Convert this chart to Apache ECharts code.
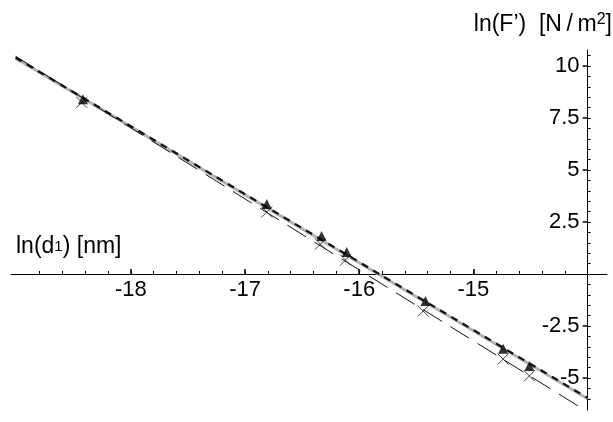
<!DOCTYPE html>
<html>
<head>
<meta charset="utf-8">
<script src="https://cdn.jsdelivr.net/npm/echarts@6/dist/echarts.min.js"></script>
<style>html,body{margin:0;padding:0;background:#fff}#chart{width:613px;height:422px}</style>
</head>
<body>
<div id="chart"></div>
<script>
'use strict';

// measured points (triangles and crosses)
var triX = [-18.42, -16.81, -16.33, -16.11, -15.42, -14.74, -14.51];
var triY = [8.40, 3.37, 1.83, 1.06, -1.30, -3.60, -4.42];
var crossX = [-18.43, -16.81, -16.34, -16.12, -15.44, -14.74, -14.51];
var crossY = [8.25, 2.98, 1.44, 0.67, -1.78, -4.09, -4.90];

// fitted lines, end points
var fitX = [-19.01, -14];
var greyFit = [10.38, -6.00];
var dashFit = [10.40, -5.96];
var longDashFit = [10.47, -6.63];

// ticks
var xTicks = [-18, -17, -16, -15];
var yTicks = [-5, -2.5, 2.5, 5, 7.5, 10];

var xMin = -19.05, xMax = -13.83, yMin = -6.54, yMax = 10.77;
var yAxisAt = -14;

var xMinor = [];
for (var i = -94; i <= -71; i++) xMinor.push(+(i * 0.2).toFixed(1));
var yMinor = [];
for (var j = -12; j <= 21; j++) yMinor.push(j * 0.5);

function pairs(xs, ys){
  return xs.map(function(x, k){ return [x, ys[k]]; });
}

var font = 'Liberation Sans, Arial, sans-serif';
var chart = echarts.init(document.getElementById('chart'));
var gridLeft = 11, gridRight = 6, gridTop = 50, gridBottom = 12;
var pxPerUnit = (613 - gridLeft - gridRight) / (xMax - xMin);
var gridH = 422 - gridTop - gridBottom;
// x labels sit on the zero line, not on the grid bottom
var zeroToBottom = gridH * (0 - yMin) / (yMax - yMin);

var option = {
  animation: false,
  backgroundColor: '#fff',
  grid: {left: gridLeft, right: gridRight, top: gridTop, bottom: gridBottom, containLabel: false},
  xAxis: [
    {
      type: 'value', min: xMin, max: xMax, position: 'bottom',
      axisLine: {onZero: true, lineStyle: {color: '#000', width: 1}},
      axisTick: {inside: true, length: 5, customValues: xTicks, lineStyle: {color: '#000', width: 1.5}},
      axisLabel: {customValues: xTicks, color: '#000', fontSize: 22, fontFamily: font, margin: 5 - zeroToBottom},
      splitLine: {show: false}
    },
    {
      type: 'value', min: xMin, max: xMax, position: 'bottom',
      axisLine: {show: false, onZero: true, onZeroAxisIndex: 0},
      axisTick: {inside: true, length: 3, customValues: xMinor, lineStyle: {color: '#000', width: 1}},
      axisLabel: {show: false},
      splitLine: {show: false}
    }
  ],
  yAxis: [
    {
      type: 'value', min: yMin, max: yMax, position: 'right',
      offset: (yAxisAt - xMax) * pxPerUnit,
      axisLine: {show: true, onZero: false, lineStyle: {color: '#000', width: 1}},
      axisTick: {inside: true, length: 5, customValues: yTicks, lineStyle: {color: '#000', width: 1.5}},
      axisLabel: {inside: true, customValues: yTicks, color: '#000', fontSize: 22, fontFamily: font, margin: 8},
      splitLine: {show: false}
    },
    {
      type: 'value', min: yMin, max: yMax, position: 'right',
      offset: (yAxisAt - xMax) * pxPerUnit,
      axisLine: {show: false, onZero: false},
      axisTick: {inside: false, length: 3, customValues: yMinor, lineStyle: {color: '#000', width: 1}},
      axisLabel: {show: false},
      splitLine: {show: false}
    }
  ],
  graphic: [
    {
      type: 'text', x: 612, y: 25,
      style: {
        text: 'ln(F’)  [N\u2009/\u2009m{s|2}]',
        align: 'right', verticalAlign: 'middle',
        font: '23px ' + font, fill: '#000',
        rich: {s: {fontSize: 16, fontFamily: font, padding: [0, 0, 10, 0], fill: '#000'}}
      }
    },
    {
      type: 'text', x: 16, y: 247,
      style: {
        text: 'ln(d{s|1}) [nm]',
        align: 'left', verticalAlign: 'middle',
        font: '23px ' + font, fill: '#000',
        rich: {s: {fontSize: 15, fontFamily: font, fill: '#000'}}
      }
    }
  ],
  series: [
    {
      type: 'line', data: pairs(fitX, greyFit), symbol: 'none', z: 2,
      lineStyle: {color: '#b3b3b3', width: 3}
    },
    {
      type: 'line', data: pairs(fitX, dashFit), symbol: 'none', z: 3,
      lineStyle: {color: '#111', width: 2.2, type: [7, 6]}
    },
    {
      type: 'line', data: pairs(fitX, longDashFit), symbol: 'none', z: 3,
      lineStyle: {color: '#111', width: 1, type: [22, 10]}
    },
    {
      type: 'scatter', data: pairs(crossX, crossY), z: 4,
      symbol: 'path://M0,0L10,10M10,0L0,10', symbolSize: 11,
      itemStyle: {color: 'rgba(0,0,0,0)', borderColor: '#111', borderWidth: 1}
    },
    {
      type: 'scatter', data: pairs(triX, triY), z: 5,
      symbol: 'triangle', symbolSize: [10, 10],
      itemStyle: {color: '#000'}
    }
  ]
};
chart.setOption(option);
</script>
</body>
</html>
